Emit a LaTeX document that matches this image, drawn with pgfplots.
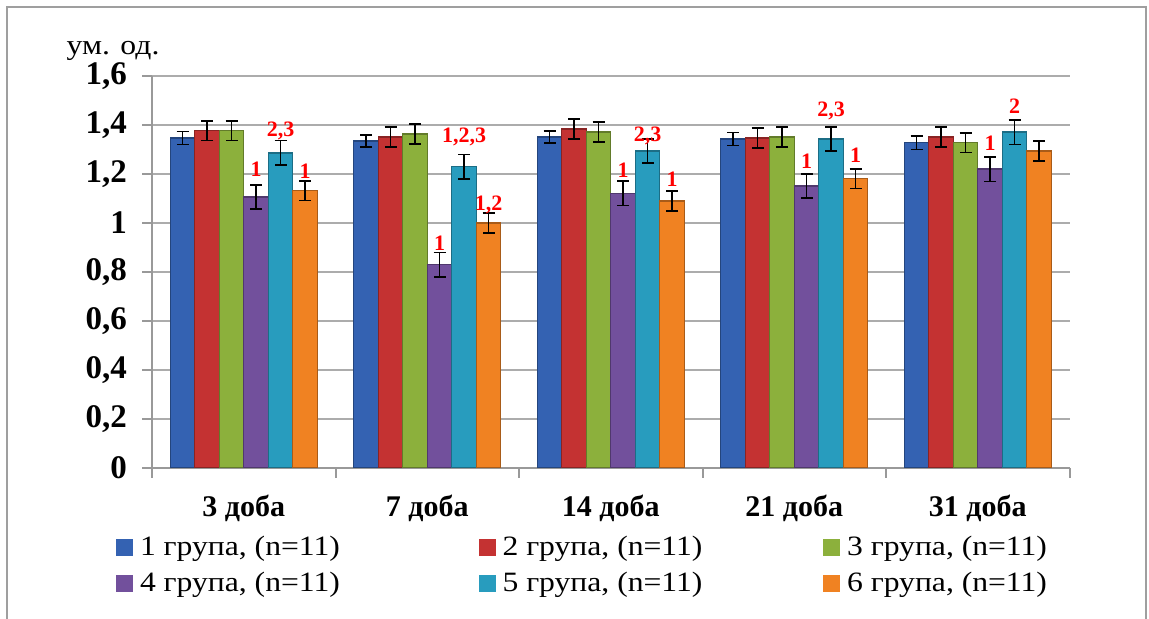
\documentclass[border=0pt]{standalone}
\usepackage{pgfplots}
\usepackage{pgfplotstable}
\pgfplotsset{compat=1.18}
\usepackage{fontspec}
\setmainfont{Liberation Serif}
\newfontfamily\widefont[FakeStretch=1.13]{Liberation Serif}
\definecolor{c1}{RGB}{52,98,178}
\definecolor{c2}{RGB}{196,50,50}
\definecolor{c3}{RGB}{140,176,60}
\definecolor{c4}{RGB}{114,80,156}
\definecolor{c5}{RGB}{40,156,190}
\definecolor{c6}{RGB}{240,130,34}

\pgfplotstableread{
x y e
0 1.347 0.027
1 1.335 0.025
2 1.351 0.025
3 1.343 0.027
4 1.327 0.027
}\tA
\pgfplotstableread{
x y e
0 1.376 0.04
1 1.351 0.04
2 1.384 0.04
3 1.347 0.04
4 1.351 0.04
}\tB
\pgfplotstableread{
x y e
0 1.376 0.04
1 1.363 0.04
2 1.371 0.04
3 1.351 0.04
4 1.327 0.04
}\tC
\pgfplotstableread{
x y e lab off
0 1.106 0.05 1 10.5
1 0.829 0.05 1 7
2 1.122 0.05 1 8
3 1.151 0.05 1 8.5
4 1.220 0.05 1 9.5
}\tD
\pgfplotstableread{
x y e lab off
0 1.286 0.05 {2,3} 8
1 1.229 0.05 {1,2,3} 12
2 1.294 0.05 {2,3} 4.5
3 1.343 0.05 {2,3} 11
4 1.371 0.05 2 9.5
}\tE
\pgfplotstableread{
x y e lab off
0 1.131 0.04 1 6
1 1.000 0.04 {1,2} 6
2 1.090 0.04 1 7
3 1.180 0.04 1 8
4 1.294 0.04 {} 0
}\tF

\pgfplotsset{
  myerr/.style={
    error bars/y dir=both, error bars/y explicit,
    error bars/error bar style={black, line width=0.8pt},
    error bars/error mark options={rotate=90, mark size=3pt, black, line width=0.8pt}},
  mybar/.style={draw=#1!70!black, line width=0.6pt, fill=#1, myerr},
  mylab/.style={nodes near coords, point meta=explicit symbolic,
    visualization depends on={\thisrow{off} \as \myoff},
    every node near coord/.append style={yshift=\myoff pt}},
}

\begin{document}
\begin{tikzpicture}
\path[use as bounding box] (-76pt,-75.5pt) rectangle (498.5pt,234pt);
\draw[gray!75, line width=1pt] (-72.5pt,-80pt) -- (-72.5pt,230.5pt) -- (497pt,230.5pt) -- (497pt,-80pt);
\begin{axis}[
  at={(0,0)}, anchor=south west,
  scale only axis, width=458.75pt, height=196pt,
  ybar=0pt, bar width=12.25pt,
  xmin=-0.5, xmax=4.5, ymin=0, ymax=1.6,
  xtick={0,1,2,3,4},
  xticklabels={3 доба,7 доба,14 доба,21 доба,31 доба},
  minor xtick={-0.5,0.5,1.5,2.5,3.5,4.5},
  major x tick style={draw=none},
  minor x tick style={draw=gray!80, line width=1pt},
  ytick={0,0.2,...,1.61},
  tick align=outside,
  major tick length=5pt, minor tick length=5pt,
  y tick style={draw=gray!80, line width=1pt},
  axis lines*=left,
  axis line style={draw=gray!80, line width=1pt, -},
  ymajorgrids, grid style={draw=gray!65, line width=0.9pt},
  /pgf/number format/use comma,
  /pgf/number format/assume math mode=true,
  yticklabel style={font=\fontsize{16.5}{16.5}\selectfont\bfseries, xshift=-4pt},
  xticklabel style={font=\fontsize{15}{15}\selectfont\bfseries, yshift=-5pt},
  legend columns=3,
  legend style={at={(axis description cs:-0.0392,-0.1658)}, anchor=north west,
    draw=none, fill=none, inner sep=0pt,
    font=\widefont\fontsize{14}{15}\selectfont,
    nodes={inner sep=1.5pt},
    /tikz/every even column/.append style={column sep=59pt},
    /tikz/row sep=3.5pt},
  legend image code/.code={\fill[#1, draw=none] (0pt,-4.25pt) rectangle (8.5pt,4.25pt); \path (10pt,0pt);},
  every node near coord/.append style={font=\fontsize{11}{11}\selectfont\bfseries, text=red, anchor=base, inner sep=0pt},
]
\addplot[mybar=c1] table[x=x,y=y,y error=e]{\tA};
\addlegendentry{1 група, (n=11)\rule{9pt}{0pt}}
\addplot[mybar=c2] table[x=x,y=y,y error=e]{\tB};
\addlegendentry{2 група, (n=11)}
\addplot[mybar=c3] table[x=x,y=y,y error=e]{\tC};
\addlegendentry{3 група, (n=11)}
\addplot[mybar=c4, mylab] table[x=x,y=y,y error=e,meta=lab]{\tD};
\addlegendentry{4 група, (n=11)\rule{9pt}{0pt}}
\addplot[mybar=c5, mylab] table[x=x,y=y,y error=e,meta=lab]{\tE};
\addlegendentry{5 група, (n=11)}
\addplot[mybar=c6, mylab] table[x=x,y=y,y error=e,meta=lab]{\tF};
\addlegendentry{6 група, (n=11)}
\end{axis}
\node[font=\widefont\fontsize{14}{15}\selectfont, inner sep=0pt] at (-19.5pt,208.5pt) {ум. од.};
\end{tikzpicture}
\end{document}
